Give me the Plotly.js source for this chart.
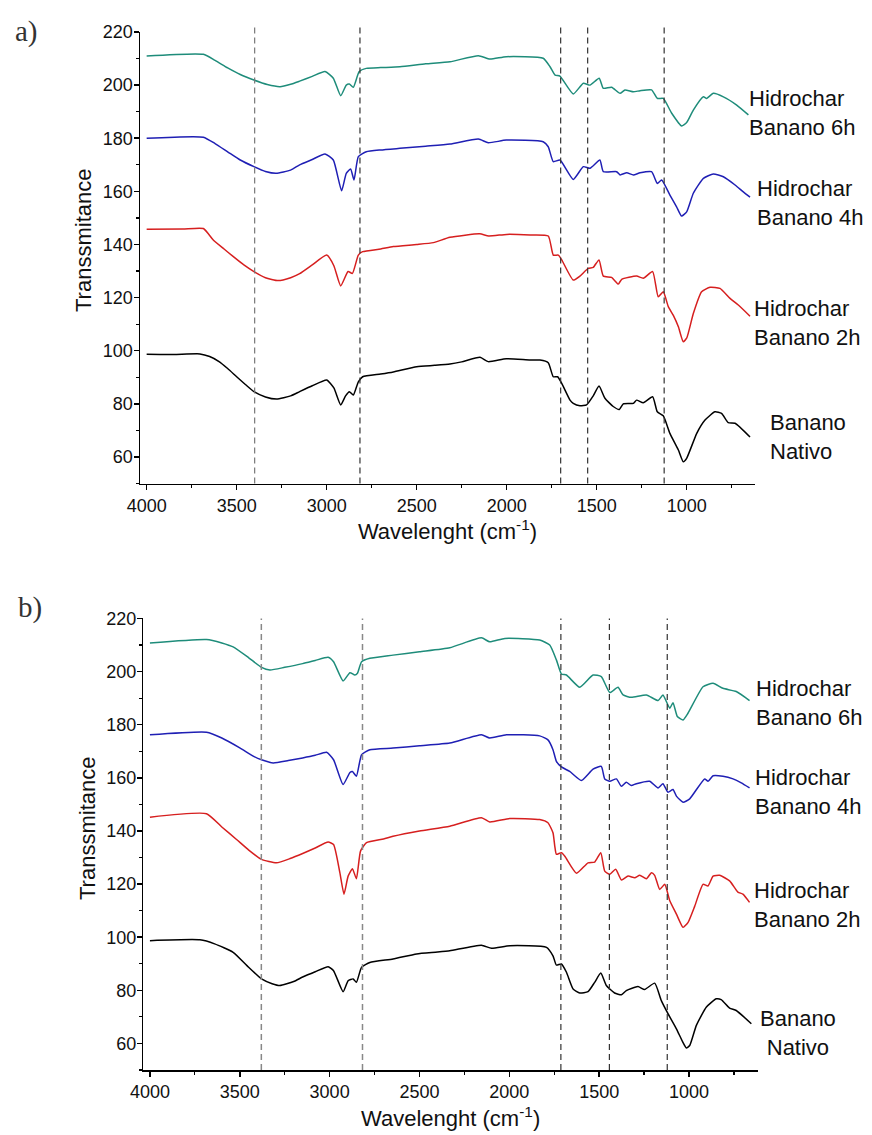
<!DOCTYPE html>
<html>
<head>
<meta charset="utf-8">
<script src="https://cdn.plot.ly/plotly-3.0.1.min.js"></script>
<style>html,body{margin:0;padding:0;background:#fff;}#chart{width:872px;height:1135px;}</style>
</head>
<body>
<div id="chart"></div>
<script>
// ---------- Panel a) ----------
const aNativoX = [4000,3850,3704,3650,3600,3550,3500,3450,3404,3340,3278,3200,3150,3080,3000,2960,2922,2895,2874,2852,2824,2800,2700,2630,2500,2400,2315,2250,2148,2102,2002,1870,1815,1769,1741,1717,1694,1648,1630,1593,1556,1519,1487,1454,1408,1374,1352,1296,1278,1241,1189,1163,1130,1093,1046,1019,1000,944,898,843,806,769,731,648];
const aNativoY = [98.7,98.6,98.8,97.8,96,93.3,90.2,87.2,84.6,82.6,81.8,83,84.6,86.8,89,86,79.6,83,84.6,83.3,88.3,90.2,91.2,92,94,94.5,95,95.8,97.5,95.9,97,96.5,96.5,95.5,90.2,90.2,87.7,81.4,80.2,79.3,79.6,83,86.7,82.1,79,77.9,80,80.2,81.4,80.4,82.7,77,75.5,68.9,62.6,58.2,59.5,68.9,73.9,77,76.4,72.9,72.7,67.5];

const a2hX = [4000,3800,3685,3630,3570,3520,3460,3404,3340,3270,3200,3150,3080,3000,2960,2922,2881,2857,2824,2800,2700,2630,2500,2407,2315,2150,2100,2000,1870,1769,1741,1713,1694,1630,1593,1547,1519,1487,1463,1417,1380,1361,1278,1241,1189,1158,1130,1102,1074,1046,1019,1000,963,917,870,815,759,713,648];
const a2hY = [145.7,145.8,146,141.7,138.3,135.5,132.3,129.8,127.5,126.4,127.5,129,132.3,136,132,124.4,129.8,129.1,136,137.3,138.3,139.2,140,140.7,142.7,144,143.2,143.8,143.6,143.2,136,136,134.2,126.6,128.1,131,131.4,134.2,128.1,127.6,125.1,126.9,128.1,127.3,129.8,120.3,122.2,116.6,113.3,109,103.4,104.7,114,122.2,123.9,123.5,119.7,117.2,113];

const a4hX = [4000,3685,3620,3550,3480,3404,3340,3281,3200,3150,3080,3009,2963,2917,2891,2867,2848,2824,2780,2700,2593,2450,2315,2157,2102,2002,1797,1769,1741,1704,1630,1574,1537,1482,1463,1389,1370,1333,1296,1259,1195,1163,1139,1093,1056,1028,1000,963,907,852,796,731,687,648];
const a4hY = [180,180.4,178,174.9,171.8,169.3,167.5,166.8,168,170,172,174.1,171.8,160.2,166.8,168.4,164.3,173.1,174.9,175.6,176.2,177,177.8,179.7,178.3,179.3,178.7,176.8,171.2,171.8,164.5,169.3,168.7,171.8,167.4,167.4,166.2,167,166.2,167,167.4,163,164.3,158.6,154.2,150.7,152.3,159.3,164.9,166.5,165.5,162.4,159.9,157.8];

const a6hX = [4000,3685,3620,3550,3480,3404,3330,3259,3200,3150,3080,3009,2963,2922,2891,2874,2852,2819,2780,2700,2593,2450,2315,2157,2093,2002,1797,1759,1731,1704,1630,1574,1537,1486,1463,1417,1370,1343,1296,1259,1195,1163,1130,1083,1028,1000,963,907,889,852,796,722,657];
const a6hY = [211,211.6,209.3,206.5,204,201.9,200.2,199.4,200.3,201.5,203.3,205.1,202.6,196,200,200.4,199.2,205.1,206.3,206.6,206.9,208,208.8,211.1,209.8,210.7,210.1,206.9,203.8,203.4,196.7,200.7,200,202.6,198.8,199.2,196.9,198.2,197.5,197.9,198.2,195,195,189.4,184.6,185.9,190.6,195.6,195,196.9,195.6,192.5,188.8];

const aMarkers = [3400,2815,1700,1550,1125];

// ---------- Panel b) ----------
const bNativoX = [4000,3722,3640,3537,3460,3379,3320,3277,3200,3150,3080,3008,2978,2925,2897,2869,2851,2822,2776,2647,2516,2400,2331,2155,2099,1997,1793,1757,1738,1710,1682,1645,1608,1562,1525,1491,1460,1414,1376,1349,1284,1247,1191,1154,1117,1070,1033,1015,996,959,903,848,821,774,737,653];
const bNativoY = [98.7,99,97.5,94.3,89.3,84.3,82.5,81.8,83.3,85,87,88.9,87.4,79.5,83.6,84.3,83,88.7,90.5,91.8,93.7,94.4,94.9,97,95.8,96.8,96.2,93,89.5,89.9,86.8,80.5,79,79.5,83,86.5,81.8,79,78.3,79.9,81.4,80.3,82.7,76.1,71.2,65.5,60.3,58.3,59.2,66.8,73.7,76.8,76.5,73.3,72.4,67.4];

const b2hX = [4000,3685,3600,3518,3450,3379,3296,3220,3150,3080,3008,2978,2943,2920,2897,2873,2851,2828,2795,2700,2647,2500,2331,2155,2109,1997,1831,1785,1757,1747,1738,1710,1691,1626,1562,1525,1491,1469,1441,1408,1376,1339,1302,1274,1237,1209,1191,1163,1135,1107,1070,1033,1005,968,922,894,866,829,774,728,700,663];
const b2hY = [145.2,146.5,141.5,136.8,132.8,129.3,128,129.6,131.5,133.6,135.8,134.9,124.3,116.2,123,125.8,122,132.4,135.6,137,138,140,141.8,145,143.4,144.7,144.3,143.1,139.3,134.3,131.2,131.8,130.5,124.1,128,128.3,131.8,124.9,123.7,125.6,121.5,123,122.4,123.3,122,124.3,123.3,118,119.9,113.7,108.7,103.7,105.6,111.7,119.9,119.3,123,123.3,121.2,117,116.2,113.1];

const b4hX = [4000,3685,3600,3500,3420,3379,3314,3230,3150,3080,3017,2978,2925,2887,2873,2851,2822,2776,2647,2500,2331,2155,2109,2016,1831,1785,1757,1738,1710,1664,1599,1534,1488,1469,1441,1404,1376,1349,1321,1293,1219,1172,1145,1117,1089,1070,1033,996,913,894,866,811,755,709,663];
const b4hY = [176.2,177.2,175,171.3,168,166.8,165.6,166.5,167.5,168.5,169.6,166.8,157.5,162,162.4,160.6,168.7,170.6,171.2,172.1,173.1,176.2,175,176.2,175.8,174.3,170.6,166.2,164.1,162.4,159,163.3,164.3,159.6,158.7,159.6,156.8,158.3,157.1,157.8,158.7,156.2,157.8,154.6,155.6,153.1,150.8,152.1,159.6,158.7,160.8,160.6,159.6,158.1,156.2];

const b6hX = [4000,3685,3600,3537,3450,3379,3332,3250,3150,3080,3008,2978,2925,2887,2860,2845,2822,2776,2647,2500,2331,2155,2109,2025,1831,1775,1738,1710,1682,1608,1534,1488,1441,1395,1367,1321,1237,1172,1145,1107,1089,1065,1033,1005,922,866,811,737,663];
const b6hY = [210.8,212.1,210.8,209.3,205.2,201.6,200.6,201.6,203,204.2,205.4,203.7,196.5,199.6,198.7,199.4,203.7,205,206.2,207.5,209,212.7,211.2,212.5,211.9,210,204.4,199.1,198.7,194.1,198.7,198.1,192.1,194.1,191.2,190.3,191.2,189.1,191.2,186.2,188.3,183.1,181.8,184.4,194.3,195.6,193.7,192.5,189.1];

const bMarkers = [3380,2817,1713,1443,1121];

const seriesNames = ['Banano Nativo','Hidrochar Banano 2h','Hidrochar Banano 4h','Hidrochar Banano 6h'];
const seriesColors = ['#000000','#d61f1f','#1f1fb4','#1e8c7a'];
const labelText = ['Banano<br>Nativo','Hidrochar<br>Banano 2h','Hidrochar<br>Banano 4h','Hidrochar<br>Banano 6h'];

const FONT = 'Arial, "Liberation Sans", sans-serif';
const SERIF = '"Liberation Serif", "Times New Roman", serif';

const aSets = [[aNativoX,aNativoY],[a2hX,a2hY],[a4hX,a4hY],[a6hX,a6hY]];
const bSets = [[bNativoX,bNativoY],[b2hX,b2hY],[b4hX,b4hY],[b6hX,b6hY]];

const traces = [];
aSets.forEach((s,i)=>traces.push({x:s[0],y:s[1],type:'scatter',mode:'lines',name:seriesNames[i],
  line:{color:seriesColors[i],width:1.5,shape:'spline',smoothing:0.5},xaxis:'x',yaxis:'y',showlegend:false}));
bSets.forEach((s,i)=>traces.push({x:s[0],y:s[1],type:'scatter',mode:'lines',name:seriesNames[i],
  line:{color:seriesColors[i],width:1.5,shape:'spline',smoothing:0.5},xaxis:'x2',yaxis:'y2',showlegend:false}));

function xAxis(domain, range, anchor){
  return {domain:domain, range:range, anchor:anchor, autorange:false,
    showline:true, linecolor:'#000', linewidth:1.5, showgrid:false, zeroline:false,
    ticks:'outside', ticklen:5, tickwidth:1.5, tickcolor:'#000', dtick:500, tick0:0,
    minor:{dtick:250, ticks:'outside', ticklen:3, tickwidth:1.2, tickcolor:'#000'},
    tickfont:{family:FONT,size:18,color:'#111'},
    title:{text:'Wavelenght (cm<sup>-1</sup>)', font:{family:FONT,size:22,color:'#111'}, standoff:9}};
}
function yAxis(domain, anchor){
  return {domain:domain, range:[50,220], anchor:anchor, autorange:false,
    showline:true, linecolor:'#000', linewidth:1.5, showgrid:false, zeroline:false,
    ticks:'outside', ticklen:5, tickwidth:1.5, tickcolor:'#000', dtick:20, tick0:0,
    minor:{dtick:10, ticks:'outside', ticklen:3, tickwidth:1.2, tickcolor:'#000'},
    ticklabelstandoff:-3,
    tickfont:{family:FONT,size:18,color:'#111'}};
}

const shapes = [];
aMarkers.forEach((v,i)=>shapes.push({type:'line',xref:'x',yref:'y domain',x0:v,x1:v,y0:0,y1:1.01,
  line:{color:i===0?'#777':'#333',width:1.2,dash:'6px,4px'}}));
bMarkers.forEach((v,i)=>shapes.push({type:'line',xref:'x2',yref:'y2 domain',x0:v,x1:v,y0:0,y1:1.0,
  line:{color:i<2?'#888':'#333',width:i<2?1.5:1.2,dash:'6px,4px'}}));

const annFont = {family:FONT,size:22,color:'#111'};
const aLabelPos = [[1.0167,0.6098,'left'],[0.9898,0.7197,'left'],[0.9951,0.835,'left'],[0.9817,0.922,'left']];
const bLabelPos = [[1.0652,0.0356,'center'],[0.9908,0.159,'left'],[0.9924,0.2678,'left'],[0.994,0.3536,'left']];

const annotations = [];
aLabelPos.forEach((p,i)=>annotations.push({xref:'paper',yref:'paper',x:p[0],y:p[1],text:labelText[i],
  showarrow:false,xanchor:p[2],yanchor:'middle',align:p[2],font:annFont}));
bLabelPos.forEach((p,i)=>annotations.push({xref:'paper',yref:'paper',x:p[0],y:p[1],text:labelText[i],
  showarrow:false,xanchor:p[2],yanchor:'middle',align:p[2],font:annFont}));
// y-axis titles
annotations.push({xref:'paper',yref:'paper',x:(84-140)/618,y:(1070-241)/1038,text:'Transsmitance',textangle:-90,
  showarrow:false,xanchor:'center',yanchor:'middle',font:{family:FONT,size:22,color:'#111'}});
annotations.push({xref:'paper',yref:'paper',x:(87-140)/618,y:(1070-829)/1038,text:'Transsmitance',textangle:-90,
  showarrow:false,xanchor:'center',yanchor:'middle',font:{family:FONT,size:22,color:'#111'}});
// panel letters
annotations.push({xref:'paper',yref:'paper',x:(26-140)/618,y:(1070-31)/1038,text:'a)',showarrow:false,
  xanchor:'center',yanchor:'middle',font:{family:SERIF,size:29,color:'#333'}});
annotations.push({xref:'paper',yref:'paper',x:(30-140)/618,y:(1070-607)/1038,text:'b)',showarrow:false,
  xanchor:'center',yanchor:'middle',font:{family:SERIF,size:29,color:'#333'}});

const layout = {
  width:872, height:1135,
  margin:{l:140, r:114, t:32, b:65},
  paper_bgcolor:'#fff', plot_bgcolor:'#fff',
  showlegend:false,
  xaxis:xAxis([0,0.9951],[4037,620.5],'y'),
  yaxis:yAxis([0.565,1],'x'),
  xaxis2:xAxis([0.0053,1],[4037,616],'y2'),
  yaxis2:yAxis([0,0.435],'x2'),
  shapes:shapes,
  annotations:annotations
};

Plotly.newPlot('chart', traces, layout, {displayModeBar:false, staticPlot:true});
</script>
</body>
</html>
